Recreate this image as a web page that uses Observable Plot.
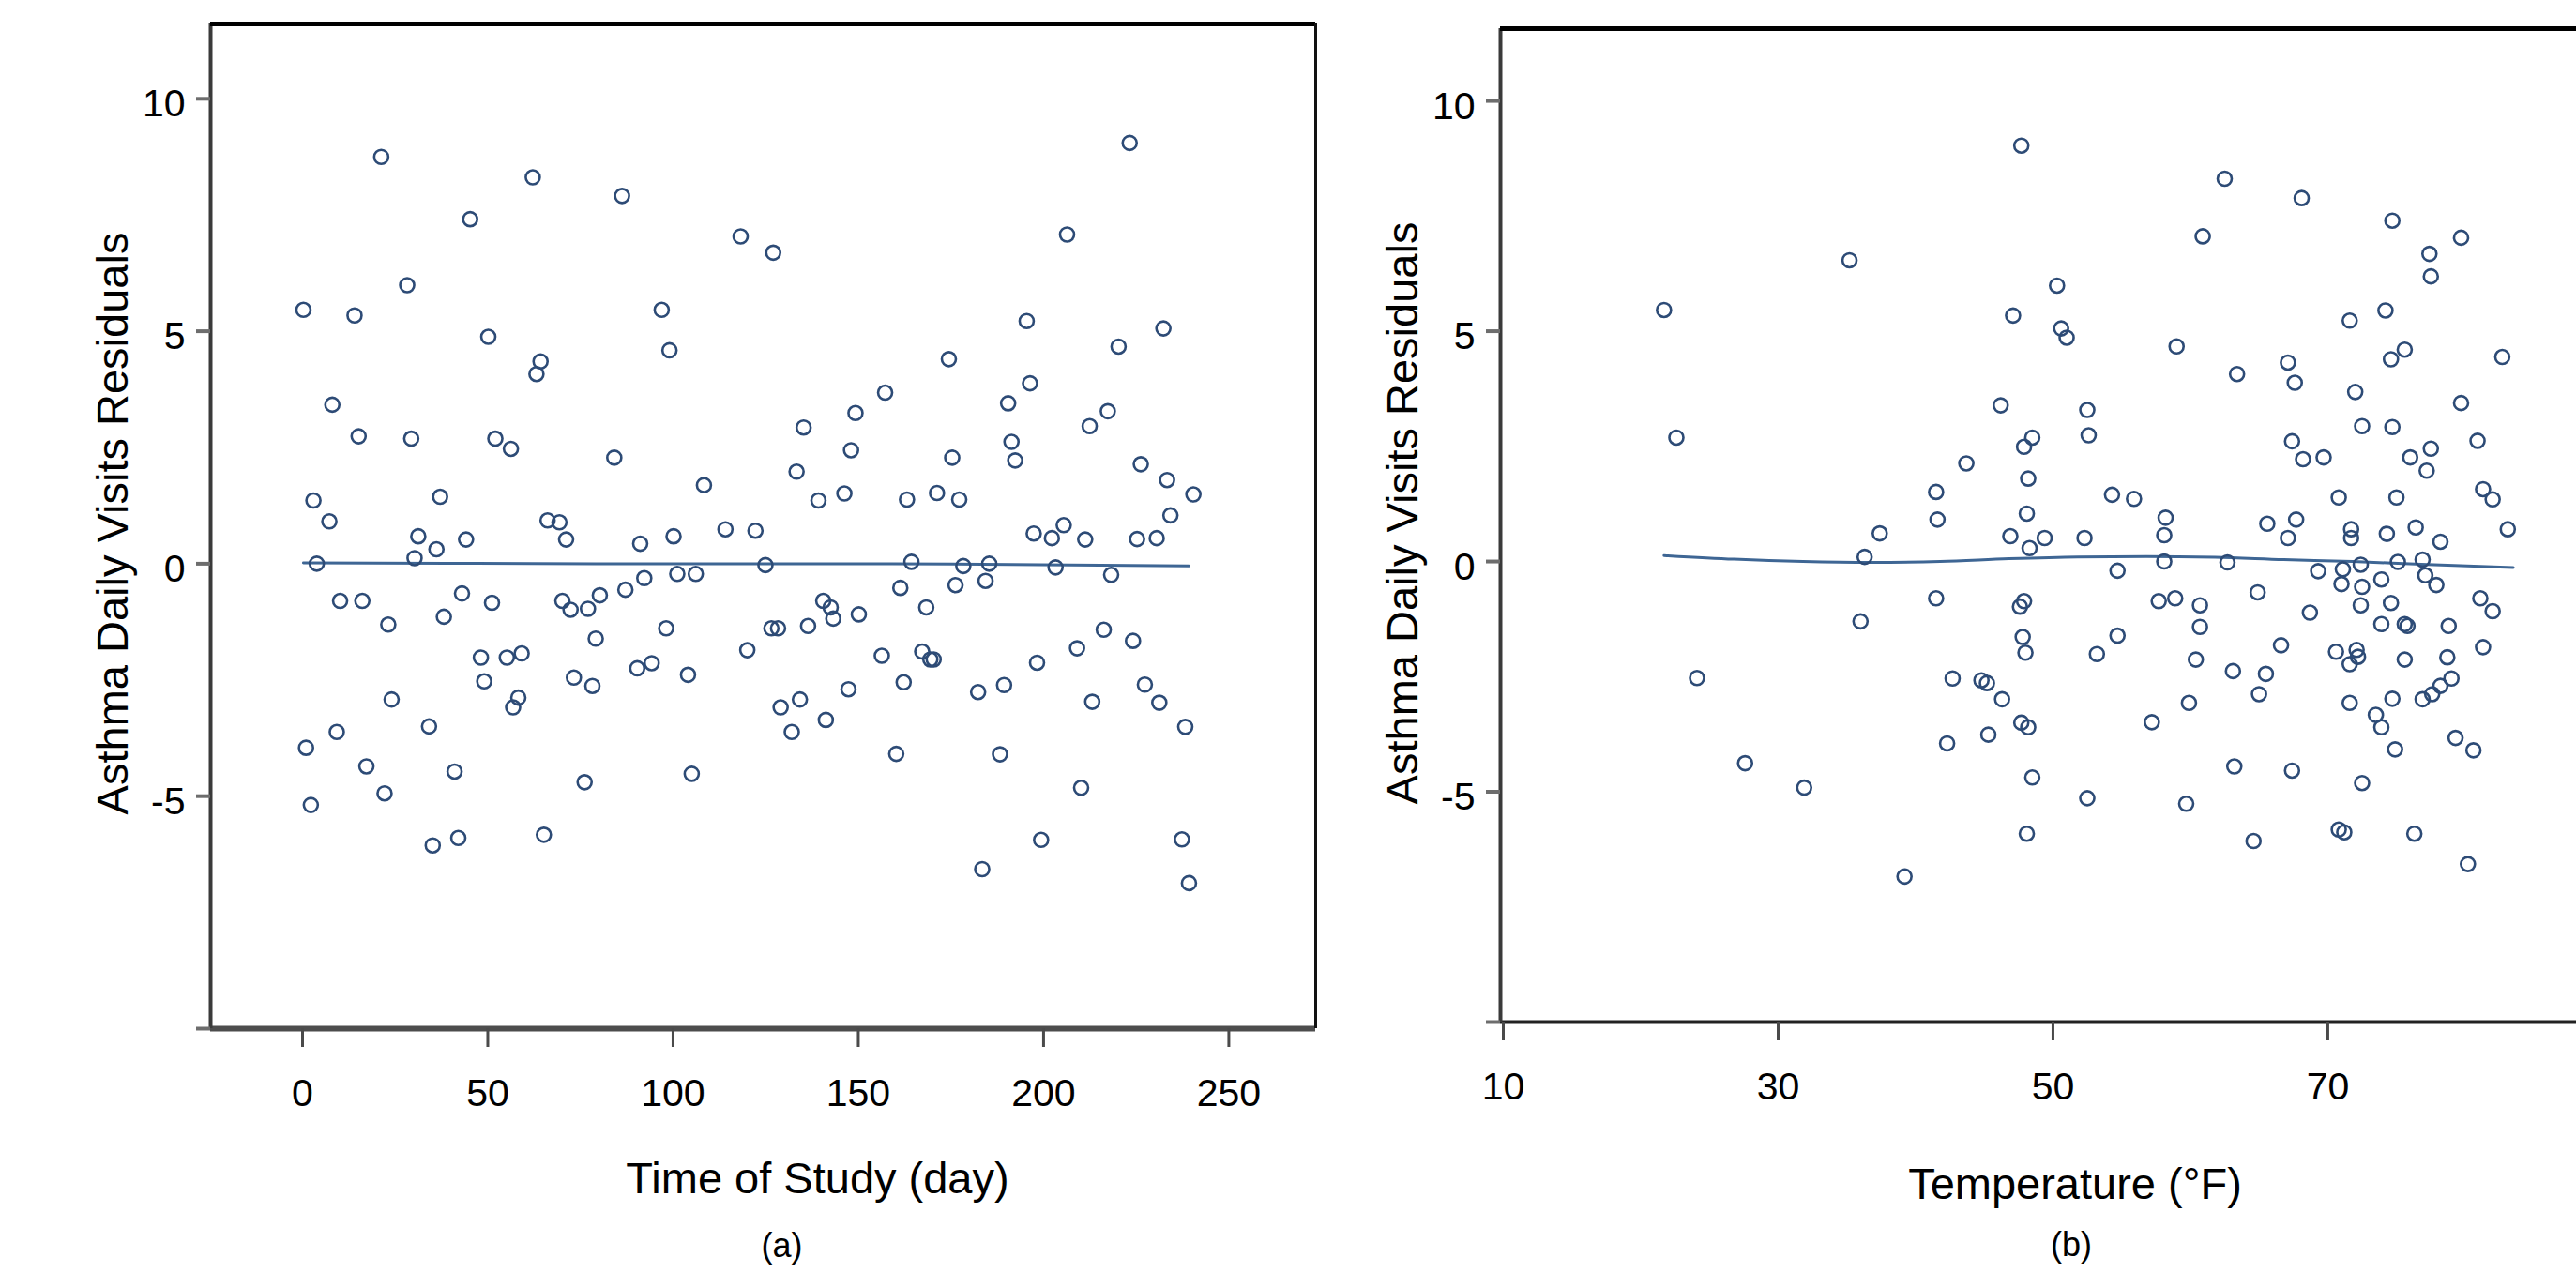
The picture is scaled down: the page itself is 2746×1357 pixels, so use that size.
<!DOCTYPE html>
<html><head><meta charset="utf-8">
<script src="https://cdn.jsdelivr.net/npm/d3@7"></script>
<script src="https://cdn.jsdelivr.net/npm/@observablehq/plot@0.6"></script>
<style>
html,body{margin:0;padding:0;background:#fff;overflow:hidden;width:2746px;height:1357px}
#wrap{position:relative;width:2746px;height:1357px;overflow:hidden;background:#fff}
#pa{position:absolute;left:0;top:0;width:1420px;height:1357px}
#pb{position:absolute;left:1420px;top:0;width:1400px;height:1357px}
#wrap svg{max-width:none !important;display:block}
</style></head><body>
<div id="wrap"><div id="pa"></div><div id="pb"></div></div>
<script>
// ---------- Data: panel (a) residuals vs time of study ----------
const timeDays = [
 22.0, 62.9, 87.0, 46.0, 119.0, 127.8, 29.0, 1.0, 14.8, 97.7, 50.9, 99.8, 65.0, 63.9, 8.8, 15.9, 30.1, 52.8, 57.0, 84.9,
 109.1, 3.7, 37.9, 8.0, 66.9, 70.1, 32.0, 44.9, 71.9, 114.9, 123.0, 91.9, 100.9, 36.9, 4.6, 31.0, 125.7, 93.0, 101.9, 106.9,
 10.9, 16.9, 43.8, 51.9, 23.9, 38.9, 70.9, 73.1, 77.8, 81.0, 87.9, 79.9, 98.9, 120.8, 127.3, 129.1, 48.9, 55.9, 59.9, 49.8,
 74.0, 79.0, 91.1, 95.0, 104.8, 24.8, 59.0, 57.6, 129.8, 10.0, 34.9, 1.7, 18.0, 41.8, 76.9, 105.8, 3.0, 22.9, 35.9, 42.8, 65.9,
 224.0, 207.1, 196.2, 233.1, 221.0, 175.2, 158.0, 197.1, 191.2, 136.0, 150.0, 213.2, 218.1, 148.8, 134.1, 176.1, 192.1, 193.1, 227.0, 140.0,
 147.0, 163.9, 172.0, 178.0, 234.1, 241.2, 235.0, 198.1, 203.0, 206.2, 212.0, 226.0, 231.3, 165.1, 179.1, 186.1, 204.0, 219.0, 162.1, 177.0,
 185.1, 169.1, 141.3, 143.3, 144.0, 150.9, 137.2, 157.1, 168.0, 170.2, 171.1, 163.0, 217.0, 209.8, 224.9, 199.0, 148.1, 135.0, 132.8, 142.0,
 183.1, 190.1, 228.1, 213.9, 232.0, 239.0, 161.0, 189.0, 210.9, 200.1, 238.1, 184.2, 240.0
];
const timeResiduals = [
 8.75, 8.31, 7.91, 7.41, 7.04, 6.69, 5.99, 5.46, 5.34, 5.46, 4.88, 4.59, 4.35, 4.08, 3.42, 2.74, 2.69, 2.69, 2.47, 2.28,
 1.69, 1.36, 1.44, 0.91, 0.93, 0.89, 0.59, 0.52, 0.52, 0.74, 0.71, 0.43, 0.59, 0.31, 0.00, 0.12, -0.03, -0.31, -0.22, -0.22,
 -0.80, -0.80, -0.64, -0.84, -1.31, -1.14, -0.80, -0.99, -0.97, -0.68, -0.56, -1.61, -1.39, -1.86, -1.39, -1.39, -2.02, -2.02, -1.93, -2.53,
 -2.45, -2.63, -2.25, -2.14, -2.39, -2.92, -2.88, -3.09, -3.09, -3.62, -3.50, -3.96, -4.36, -4.47, -4.70, -4.52, -5.19, -4.94, -6.06, -5.90, -5.83,
 9.05, 7.08, 5.22, 5.06, 4.67, 4.40, 3.68, 3.88, 3.45, 2.93, 3.24, 2.96, 3.28, 2.44, 1.98, 2.28, 2.62, 2.22, 2.14, 1.36,
 1.51, 1.38, 1.52, 1.38, 1.80, 1.49, 1.04, 0.65, 0.55, 0.83, 0.52, 0.53, 0.55, 0.04, -0.05, 0.00, -0.08, -0.24, -0.52, -0.46,
 -0.37, -0.94, -0.80, -0.94, -1.18, -1.09, -1.34, -1.98, -1.89, -2.06, -2.06, -2.55, -1.42, -1.82, -1.66, -2.13, -2.70, -2.92, -3.62, -3.36,
 -2.76, -2.61, -2.60, -2.97, -2.99, -3.51, -4.09, -4.10, -4.82, -5.94, -5.93, -6.57, -6.87
];
// fitted (loess) line for panel (a)
const timeFitDays = [1, 40, 80, 120, 160, 200, 240];
const timeFitResiduals = [0.02, 0.01, 0.0, 0.0, 0.0, -0.02, -0.05];

// ---------- Data: panel (b) residuals vs temperature ----------
const tempValues = [
 21.9, 22.8, 24.3, 27.8, 32.1,
 47.9, 35.4, 50.5, 47.3, 50.8, 51.2, 46.4, 52.7, 52.8, 48.1, 48.7, 43.9, 48.4, 41.7, 41.8, 48.3, 54.5, 56.1, 37.6, 47.1,
 49.6, 48.5, 52.5, 36.5, 54.9, 58.4, 58.3, 58.3, 57.9, 41.7, 36.2, 47.8, 48.1, 48.0, 48.2, 53.4, 54.9, 42.9, 45.0, 45.4,
 46.5, 47.9, 48.4, 42.5, 45.5, 48.7, 52.7, 48.3, 39.4, 57.4,
 62.7, 68.3, 61.1, 74.9, 79.9, 77.6, 77.7, 71.8, 74.4, 59.2, 63.6, 67.3, 67.8, 74.8, 75.8, 82.9, 72.2, 79.9, 72.7, 74.9,
 81.1, 67.6, 68.4, 69.9, 76.2, 77.7, 77.4, 81.5, 82.2, 71.0, 75.2, 65.8, 67.9, 67.3, 71.9, 71.9, 74.5, 76.6, 78.4, 83.3,
 62.9, 69.5, 71.3, 72.6, 75.3, 77.1, 77.3, 78.1, 71.2, 72.7, 74.1, 59.1, 60.9, 60.9, 65.1, 68.9, 72.6, 74.8, 74.1, 75.8,
 76.0, 79.0, 81.3, 82.2, 60.6, 63.3, 65.7, 65.2, 66.8, 70.8, 71.8, 72.3, 72.4, 75.8, 78.9, 81.5, 60.1, 71.8, 74.9, 77.1,
 77.8, 78.4, 79.2, 73.7, 74.1, 75.1, 79.5, 80.8, 63.4, 67.6, 72.7, 59.9, 64.8, 71.0, 71.4, 76.5, 80.4
];
const tempResiduals = [
 5.46, 2.69, -2.53, -4.38, -4.91,
 9.03, 6.54, 5.99, 5.34, 5.06, 4.86, 3.39, 3.29, 2.74, 2.49, 2.69, 2.13, 1.80, 1.51, 0.91, 1.04, 1.45, 1.36, 0.61, 0.55,
 0.51, 0.29, 0.51, 0.10, -0.20, 0.95, 0.57, 0.00, -0.86, -0.80, -1.30, -0.98, -0.86, -1.64, -1.98, -2.01, -1.61, -2.54, -2.58, -2.64,
 -2.99, -3.50, -3.60, -3.95, -3.76, -4.69, -5.14, -5.91, -6.84, -3.49,
 8.31, 7.89, 7.06, 7.40, 7.03, 6.68, 6.19, 5.23, 5.45, 4.67, 4.07, 4.32, 3.88, 4.39, 4.60, 4.44, 3.68, 3.44, 2.94, 2.92,
 2.62, 2.61, 2.22, 2.26, 2.26, 2.45, 1.97, 1.57, 1.35, 1.39, 1.39, 0.82, 0.91, 0.51, 0.70, 0.51, 0.60, 0.74, 0.43, 0.70,
 -0.02, -0.21, -0.17, -0.07, -0.01, 0.04, -0.30, -0.51, -0.49, -0.55, -0.39, -0.80, -0.95, -1.42, -0.67, -1.11, -0.95, -0.90, -1.36, -1.36,
 -1.40, -1.40, -0.80, -1.08, -2.13, -2.38, -2.44, -2.88, -1.82, -1.96, -2.23, -1.92, -2.07, -2.13, -2.08, -1.86, -3.07, -3.07, -2.98, -2.99,
 -2.88, -2.70, -2.54, -3.33, -3.60, -4.08, -3.83, -4.10, -4.45, -4.54, -4.81, -5.26, -6.07, -5.82, -5.88, -5.91, -6.57
];
// fitted (loess) line for panel (b)
const tempFitValues = [21.9, 27, 32, 37, 42, 47, 52, 57, 62, 67, 72, 77, 83.7];
const tempFitResiduals = [0.13, 0.05, 0.0, -0.02, 0.0, 0.06, 0.1, 0.11, 0.09, 0.04, 0.0, -0.06, -0.13];

// ---------- Tick labels / text ----------
const residualTicks = [-10, -5, 0, 5, 10];
const timeTicks = [0, 50, 100, 150, 200, 250];
const tempTicks = [10, 30, 50, 70];
const yTitle = "Asthma Daily Visits Residuals";
const xTitleA = "Time of Study (day)";
const xTitleB = "Temperature (\u00B0F)";
const captionA = "(a)";
const captionB = "(b)";

// ---------- Build tables ----------
const tableA = timeDays.map((d, i) => ({x: d, y: timeResiduals[i]}));
const fitA = timeFitDays.map((d, i) => ({x: d, y: timeFitResiduals[i]}));
const tableB = tempValues.map((d, i) => ({x: d, y: tempResiduals[i]}));
const fitB = tempFitValues.map((d, i) => ({x: d, y: tempFitResiduals[i]}));

const FONT = "'Liberation Sans', Arial, Helvetica, sans-serif";
const fmtY = d => d === -10 ? "" : String(d);
const pointColor = "#2d4b76";
const lineColor = "#3e6694";

function panel({data, fit, xDomain, yDomain, xTicks, width, marginLeft, marginRight, marginTop, marginBottom,
                xTitle, caption, xTitleDx, xTitleDy, capDx, capDy, yTitleDy, bottomAxisW, bottomAxisColor, showRight}) {
  const marks = [
    // axis lines / frame
    Plot.ruleY([yDomain[0]], {stroke: bottomAxisColor, strokeWidth: bottomAxisW}),
    Plot.ruleX([xDomain[0]], {stroke: "#3a3a3a", strokeWidth: 4}),
    Plot.ruleY([yDomain[1]], {stroke: "#000", strokeWidth: 5}),
    // y ticks and labels
    Plot.axisY(residualTicks, {anchor: "left", tickSize: 15, stroke: "#6d6d6d", strokeWidth: 4, fill: "none", label: null}),
    Plot.axisY(residualTicks, {anchor: "left", tickSize: 15, tickPadding: 12, stroke: "none", fontSize: 41, fill: "#000", dy: 6, tickFormat: fmtY, label: null}),
    // x ticks and labels
    Plot.axisX(xTicks, {anchor: "bottom", tickSize: 20, tickPadding: 33, stroke: "#4a4a4a", strokeWidth: 3, fontSize: 41, fill: "#000", dx: 3, tickFormat: d => String(d), label: null}),
    // fitted line and points
    Plot.line(fit, {x: "x", y: "y", stroke: lineColor, strokeWidth: 3, curve: "monotone-x"}),
    Plot.dot(data, {x: "x", y: "y", r: 7.5, stroke: pointColor, strokeWidth: 2.6, fill: "none"}),
    // titles
    Plot.text([yTitle], {frameAnchor: "left", rotate: -90, textAnchor: "middle", lineAnchor: "bottom", dx: -89, dy: yTitleDy, fontSize: 47, fill: "#000"}),
    Plot.text([xTitle], {frameAnchor: "bottom", textAnchor: "middle", lineAnchor: "bottom", dx: xTitleDx, dy: xTitleDy, fontSize: 47, fill: "#000"}),
    Plot.text([caption], {frameAnchor: "bottom", textAnchor: "middle", lineAnchor: "bottom", dx: capDx, dy: capDy, fontSize: 36, fill: "#000"})
  ];
  if (showRight) marks.splice(3, 0, Plot.ruleX([xDomain[1]], {stroke: "#111", strokeWidth: 3}));
  return Plot.plot({
    width, height: 1357, marginLeft, marginRight, marginTop, marginBottom,
    style: {fontFamily: FONT, background: "transparent", overflow: "visible", color: "#000", maxWidth: "none"},
    x: {domain: xDomain, label: null},
    y: {domain: yDomain, label: null},
    marks
  });
}

document.getElementById("pa").appendChild(panel({
  data: tableA, fit: fitA,
  xDomain: [-24.05, 274.2], yDomain: [-10, 11.61], xTicks: timeTicks,
  width: 1420, marginLeft: 224, marginRight: 18, marginTop: 25, marginBottom: 261,
  xTitle: xTitleA, caption: captionA, xTitleDx: 58, xTitleDy: 175, capDx: 20, capDy: 243, yTitleDy: -3,
  bottomAxisW: 6, bottomAxisColor: "#4d4d4d", showRight: true
}));
document.getElementById("pb").appendChild(panel({
  data: tableB, fit: fitB,
  xDomain: [10, 93.35], yDomain: [-10, 11.57], xTicks: tempTicks,
  width: 1400, marginLeft: 179, marginRight: 0, marginTop: 30, marginBottom: 268,
  xTitle: xTitleB, caption: captionB, xTitleDx: 2, xTitleDy: 188, capDx: -2, capDy: 249, yTitleDy: -13,
  bottomAxisW: 4, bottomAxisColor: "#222", showRight: false
}));
</script>
</body></html>
